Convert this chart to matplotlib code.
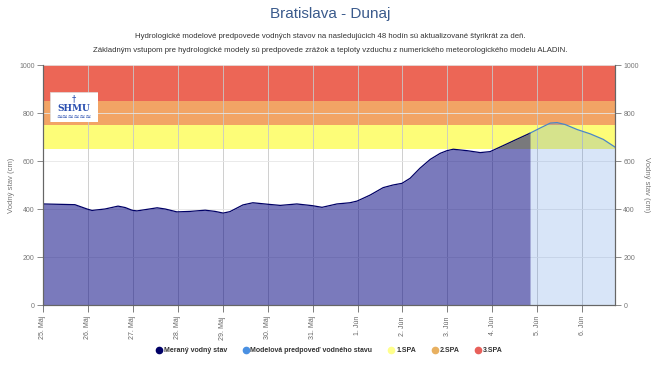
import matplotlib
matplotlib.use("Agg")
import matplotlib.pyplot as plt
from matplotlib.patches import Rectangle
from matplotlib.lines import Line2D
import numpy as np

plt.rcParams['font.family'] = ['Liberation Sans', 'DejaVu Sans']

# ---- data ----
# time in days since 25. Máj 00:00
meas_days = [0.00, 0.49, 0.71, 0.98, 1.09, 1.38, 1.67, 1.83, 1.98, 2.09, 2.54, 2.72,
             2.98, 3.27, 3.61, 3.83, 4.01, 4.16, 4.45, 4.67, 4.99, 5.28, 5.65, 5.99,
             6.21, 6.54, 6.83, 6.99, 7.28, 7.57, 7.79, 7.99, 8.17, 8.39, 8.62, 8.84,
             8.99, 9.13, 9.44, 9.73, 9.95, 10.24, 10.55, 10.84]
meas_vals = [421, 419, 418, 400, 394, 400, 412, 406, 395, 392, 405, 400,
             388, 390, 395, 390, 383, 389, 417, 426, 420, 415, 421, 414,
             407, 421, 426, 433, 458, 489, 500, 507, 528, 570, 607, 632,
             643, 649, 643, 635, 639, 664, 691, 716]
fc_days = [10.84, 11.06, 11.29, 11.44, 11.62, 11.89, 12.18, 12.47, 12.73]
fc_vals = [716, 737, 758, 760, 752, 731, 713, 690, 658]

spa_names = ['1.SPA', '2.SPA', '3.SPA']
spa_low = [650, 750, 850]
spa_high = [750, 850, 1000]
spa_colors = ['#fdfd78', '#f2a465', '#ec6656']
spa_legend_colors = ['#ffff8c', '#e8b060', '#e8605a']

tick_labels = ['25. Máj', '26. Máj', '27. Máj', '28. Máj', '29. Máj', '30. Máj',
               '31. Máj', '1. Jún', '2. Jún', '3. Jún', '4. Jún', '5. Jún', '6. Jún']
x_end = 12.73

title = 'Bratislava - Dunaj'
subtitle1 = 'Hydrologické modelové predpovede vodných stavov na nasledujúcich 48 hodín sú aktualizované štyrikrát za deň.'
subtitle2 = 'Základným vstupom pre hydrologické modely sú predpovede zrážok a teploty vzduchu z numerického meteorologického modelu ALADIN.'

# ---- figure ----
fig = plt.figure(figsize=(6.6, 3.73), dpi=100)
ax = fig.add_axes([43/660, 1 - 305/373, (615-43)/660, (305-65)/373])
ax.set_xlim(0, x_end)
ax.set_ylim(0, 1000)

for lo, hi, c in zip(spa_low, spa_high, spa_colors):
    ax.axhspan(lo, hi, color=c, lw=0, zorder=0)

ax.set_yticks(np.arange(0, 1001, 200))
ax.set_xticks(np.arange(len(tick_labels)))
ax.set_xticklabels(tick_labels, rotation=90, fontsize=5, color='#777777', va='top')
ax.grid(axis='y', color='#e6e6e6', lw=0.6, zorder=1)
ax.grid(axis='x', color='#c8c8c8', lw=0.6, zorder=1)

ax.fill_between(meas_days, 0, meas_vals, color='#000080', alpha=0.52, lw=0, zorder=2)
ax.plot(meas_days, meas_vals, color='#000066', lw=0.9, zorder=4)
ax.fill_between(fc_days, 0, fc_vals, color='#3d7fe0', alpha=0.2, lw=0, zorder=2)
ax.plot(fc_days, fc_vals, color='#4a86c8', lw=0.9, zorder=4)

ax.tick_params(axis='y', labelsize=5, colors='#777777', length=4, width=0.6, pad=2)
ax.tick_params(axis='x', length=5, width=0.6, colors='#666666', pad=3)
ax.spines['top'].set_visible(False)
for s in ['left', 'right', 'bottom']:
    ax.spines[s].set_color('#666666')
    ax.spines[s].set_linewidth(0.8)
ax.set_ylabel('Vodný stav (cm)', fontsize=5.5, color='#777777', labelpad=3)

ax2 = ax.twinx()
ax2.set_ylim(0, 1000)
ax2.set_yticks(np.arange(0, 1001, 200))
ax2.tick_params(axis='y', labelsize=5, colors='#777777', length=4, width=0.6, pad=2)
ax2.spines['top'].set_visible(False)
for s in ['left', 'right', 'bottom']:
    ax2.spines[s].set_color('#666666')
    ax2.spines[s].set_linewidth(0.8)
ax2.set_ylabel('Vodný stav (cm)', fontsize=5.5, color='#777777', rotation=270, labelpad=8)

# logo
lax = fig.add_axes([50/660, 1 - 122/373, 48/660, 30/373])
lax.set_xlim(0, 1); lax.set_ylim(0, 1)
lax.add_patch(Rectangle((0, 0), 1, 1, facecolor='white', edgecolor='#dddddd', lw=0.5))
lax.text(0.5, 0.45, 'SHMU', ha='center', va='center', fontsize=6.5, fontweight='bold',
         color='#2a4fb0', family='DejaVu Serif')
lax.text(0.5, 0.78, '†', ha='center', va='center', fontsize=6, color='#2a4fb0', family='DejaVu Sans')
lax.text(0.5, 0.18, '≈≈≈≈≈≈', ha='center', va='center', fontsize=5, color='#2a4fb0', family='DejaVu Sans')
lax.axis('off')

# titles
fig.text(0.5, 1 - 14/373, title, ha='center', va='center', fontsize=11, color='#3a5a8c')
fig.text(0.5, 1 - 37/373, subtitle1, ha='center', va='center', fontsize=5.6, color='#333333')
fig.text(0.5, 1 - 51/373, subtitle2, ha='center', va='center', fontsize=5.6, color='#333333')

# legend
handles = [Line2D([], [], marker='o', ls='', color='#000066', markersize=4.5),
           Line2D([], [], marker='o', ls='', color='#4a90e2', markersize=4.5)]
handles += [Line2D([], [], marker='o', ls='', color=c, markersize=4.5) for c in spa_legend_colors]
labels = ['Meraný vodný stav', 'Modelová predpoveď vodného stavu'] + spa_names
leg = fig.legend(handles, labels, loc='center', bbox_to_anchor=(329/660, 1 - 351/373),
                 ncol=5, frameon=False, fontsize=5, handletextpad=0.2, columnspacing=2.2,
                 handlelength=1.0)
for t in leg.get_texts():
    t.set_fontweight('bold'); t.set_color('#333333')

fig.savefig('out.png', dpi=100)
